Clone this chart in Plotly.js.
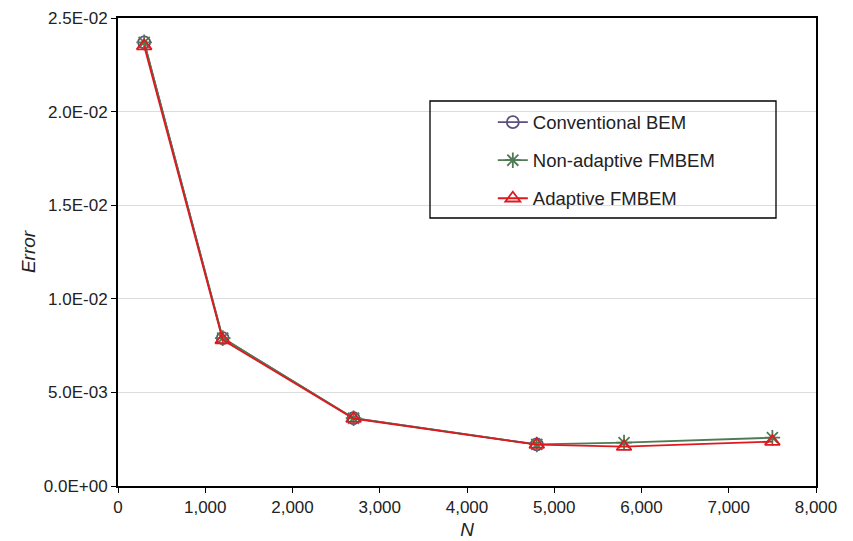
<!DOCTYPE html>
<html>
<head>
<meta charset="utf-8">
<script src="https://cdn.plot.ly/plotly-3.0.1.min.js"></script>
<style>html,body{margin:0;padding:0;background:#fff;}#chart{width:853px;height:541px;}</style>
</head>
<body>
<div id="chart"></div>
<script>
// Data
const nConventional = [300, 1200, 2700, 4800];
const errConventional = [0.0237, 0.0079, 0.00362, 0.00222];
const nNonAdaptive = [300, 1200, 2700, 4800, 5800, 7500];
const errNonAdaptive = [0.0237, 0.0079, 0.00362, 0.00222, 0.00232, 0.00258];
const nAdaptive = [300, 1200, 2700, 4800, 5800, 7500];
const errAdaptive = [0.0235, 0.0078, 0.00360, 0.00221, 0.00210, 0.00237];
const seriesNames = ['Conventional BEM', 'Non-adaptive FMBEM', 'Adaptive FMBEM'];
const yTickVals = [0, 0.005, 0.01, 0.015, 0.02, 0.025];
const yTickText = ['0.0E+00', '5.0E-03', '1.0E-02', '1.5E-02', '2.0E-02', '2.5E-02'];
const xTickVals = [0, 1000, 2000, 3000, 4000, 5000, 6000, 7000, 8000];
const xTickText = ['0', '1,000', '2,000', '3,000', '4,000', '5,000', '6,000', '7,000', '8,000'];

const font = 'Liberation Sans, Arial, sans-serif';
const traces = [
  {x: nConventional, y: errConventional, name: seriesNames[0], legendgroup: 'a', mode: 'lines+markers',
   line: {color: '#5b4f7d', width: 1.8}, marker: {symbol: 'circle-open', size: 12, color: '#5b4f7d', line: {width: 1.8}}},
  {x: nNonAdaptive, y: errNonAdaptive, name: seriesNames[1], legendgroup: 'b', mode: 'lines+markers',
   line: {color: '#4f7a55', width: 1.8}, marker: {symbol: 'asterisk-open', size: 13, color: '#4f7a55', line: {width: 1.8, color: '#4f7a55'}}},
  {x: nAdaptive, y: errAdaptive, name: seriesNames[2], legendgroup: 'c', mode: 'lines+markers',
   line: {color: '#e0191e', width: 1.8}, marker: {symbol: 'triangle-up-open', size: 13, color: '#e0191e', line: {width: 1.8}}}
];

const layout = {
  width: 853, height: 541,
  margin: {l: 118, r: 37, t: 18, b: 55},
  paper_bgcolor: '#fff', plot_bgcolor: '#fff',
  font: {family: font, size: 17, color: '#222'},
  showlegend: true,
  legend: {x: 0.537, y: 0.817, xanchor: 'left', yanchor: 'top', bgcolor: 'rgba(0,0,0,0)',
           font: {family: font, size: 18.5, color: '#222'}, tracegroupgap: 11},
  shapes: [{type: 'rect', xref: 'paper', yref: 'paper', x0: (430-118)/698, x1: (776-118)/698,
            y0: (486-218)/468, y1: (486-101)/468, line: {color: '#000', width: 1.3}, fillcolor: 'rgba(0,0,0,0)'}],
  xaxis: {range: [0, 8000], tickvals: xTickVals, ticktext: xTickText, ticks: 'outside', ticklen: 5,
          tickcolor: '#000', showline: true, linecolor: '#000', linewidth: 2, mirror: true,
          showgrid: false, zeroline: false, tickfont: {size: 17, family: font},
          title: {text: '<i>N</i>', font: {size: 19, family: font}, standoff: 6}},
  yaxis: {range: [0, 0.025], tickvals: yTickVals, ticktext: yTickText, ticks: 'outside', ticklen: 5,
          tickcolor: '#000', showline: true, linecolor: '#000', linewidth: 2, mirror: true,
          showgrid: true, gridcolor: '#dcdcdc', gridwidth: 1.2, zeroline: false, tickfont: {size: 17, family: font},
          title: {text: '<i>Error</i>', font: {size: 19, family: font}, standoff: 3}}
};
Plotly.newPlot('chart', traces, layout, {displayModeBar: false, staticPlot: true});
</script>
</body>
</html>
